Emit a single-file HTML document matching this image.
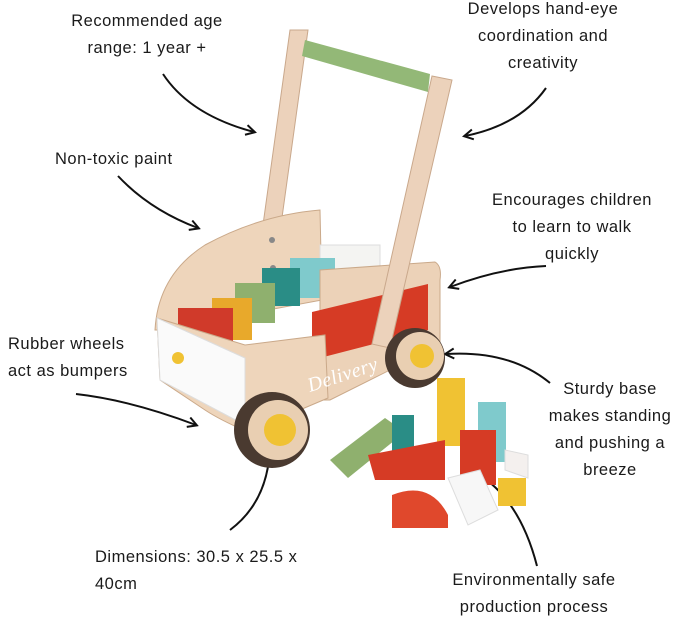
<!DOCTYPE html>
<html><head><meta charset="utf-8"><style>
html,body{margin:0;padding:0;background:#fff;}
.w{position:relative;width:679px;height:620px;overflow:hidden;font-family:"Liberation Sans",sans-serif;font-size:16.5px;color:#1a1a1a;letter-spacing:.5px}
.t{position:absolute;line-height:27px;white-space:nowrap}
.c{text-align:center}
svg{position:absolute;left:0;top:0}
</style></head><body><div class="w">
<svg width="679" height="620" viewBox="0 0 679 620">
<defs><marker id="a" markerWidth="12" markerHeight="12" refX="9" refY="6" orient="auto" markerUnits="userSpaceOnUse"><path d="M1,1 L10,6 L1,11" fill="none" stroke="#111" stroke-width="2"/></marker></defs>
<g fill="none" stroke="#111" stroke-width="2" marker-end="url(#a)">
<path d="M163,74 Q190,115 254,132"/>
<path d="M546,88 Q520,125 465,136"/>
<path d="M118,176 Q150,210 198,228"/>
<path d="M546,266 Q500,268 450,287"/>
<path d="M76,394 Q130,400 196,425"/>
<path d="M550,383 Q510,350 446,354"/>
<path d="M230,530 Q270,500 270,442"/>
<path d="M537,566 Q520,500 478,474"/>
</g>
<!-- handle posts -->
<path d="M290,30 L308,30 L280,232 L262,232 Z" fill="#ecd2bb" stroke="#c9a88c"/>
<path d="M305,40 L430,74 L428,92 L302,56 Z" fill="#93b877"/>
<!-- back left panel -->
<path d="M155,330 Q158,275 205,245 Q260,215 320,210 L322,300 L160,330 Z" fill="#eed5bb" stroke="#caa98a"/>
<circle cx="272" cy="240" r="3" fill="#888"/><circle cx="273" cy="268" r="3" fill="#888"/>
<!-- blocks in cart -->
<rect x="320" y="245" width="60" height="45" fill="#f4f4f2" stroke="#ddd"/>
<rect x="290" y="258" width="45" height="40" fill="#7fcacc"/>
<rect x="262" y="268" width="38" height="38" fill="#2a8d86"/>
<rect x="235" y="283" width="40" height="40" fill="#8fb06e"/>
<rect x="212" y="298" width="40" height="42" fill="#e8a92b"/>
<rect x="178" y="308" width="55" height="40" fill="#d03a2a"/>
<!-- right panel -->
<path d="M320,270 L435,262 Q442,266 440,280 L440,345 L330,400 L320,400 Z" fill="#ecd2b8" stroke="#caa98a"/>
<path d="M312,312 L428,284 L428,330 L312,360 Z" fill="#d63b25"/>
<path d="M432,76 L452,80 L390,348 L372,344 Z" fill="#ecd2bb" stroke="#c9a88c"/>
<!-- front lower panel -->
<path d="M157,318 L245,345 L325,335 L328,398 L248,432 Q220,420 205,410 L160,380 Z" fill="#eed5bb" stroke="#caa98a"/>
<path d="M157,318 L245,358 L245,425 L160,380 Z" fill="#fafafa" stroke="#ddd"/>
<circle cx="178" cy="358" r="6" fill="#f0c233"/>
<text x="310" y="392" font-family="Liberation Serif" font-style="italic" font-size="20" fill="#fff" transform="rotate(-18 310 392)">Delivery</text>
<!-- wheels -->
<circle cx="415" cy="358" r="30" fill="#4a3a30"/><circle cx="420" cy="356" r="24" fill="#e9cfb2"/><circle cx="422" cy="356" r="12" fill="#f0c233"/>
<circle cx="272" cy="430" r="38" fill="#4a3a30"/><circle cx="278" cy="430" r="30" fill="#e9cfb2"/><circle cx="280" cy="430" r="16" fill="#f0c233"/>
<!-- loose blocks -->
<path d="M330,460 L385,418 L405,432 L348,478 Z" fill="#8fb06e"/>
<rect x="392" y="415" width="22" height="42" fill="#2a8d86"/>
<rect x="437" y="378" width="28" height="68" fill="#f0c233"/>
<rect x="478" y="402" width="28" height="60" fill="#7fcacc"/>
<path d="M368,455 L445,440 L445,480 L375,480 Z" fill="#d63b25"/>
<rect x="460" y="430" width="36" height="55" fill="#d63b25"/>
<path d="M505,450 L528,455 L528,478 L505,470 Z" fill="#f4f0ee" stroke="#ddd"/>
<rect x="498" y="478" width="28" height="28" fill="#f0c233"/>
<path d="M448,478 L480,470 L498,510 L468,525 Z" fill="#f7f7f7" stroke="#ddd"/>
<path d="M392,495 Q430,480 448,515 L448,528 L392,528 Z" fill="#e0482c"/>
</svg>
<div class="t c" style="left:37px;top:8px;width:220px">Recommended age<br>range: 1 year +</div>
<div class="t c" style="left:433px;top:-4px;width:220px">Develops hand-eye<br>coordination and<br>creativity</div>
<div class="t" style="left:55px;top:146px">Non-toxic paint</div>
<div class="t c" style="left:462px;top:187px;width:220px">Encourages children<br>to learn to walk<br>quickly</div>
<div class="t" style="left:8px;top:331px">Rubber wheels<br>act as bumpers</div>
<div class="t c" style="left:520px;top:376px;width:180px">Sturdy base<br>makes standing<br>and pushing a<br>breeze</div>
<div class="t" style="left:95px;top:544px">Dimensions: 30.5 x 25.5 x<br>40cm</div>
<div class="t c" style="left:414px;top:567px;width:240px">Environmentally safe<br>production process</div>
</div></body></html>
